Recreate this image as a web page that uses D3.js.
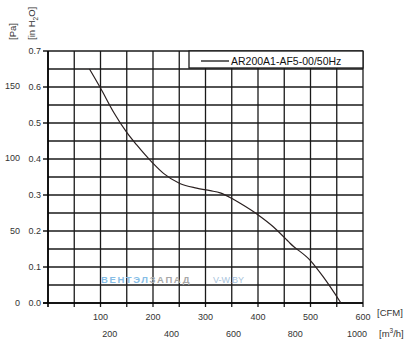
<!DOCTYPE html>
<html><head><meta charset="utf-8">
<script src="https://cdn.jsdelivr.net/npm/d3@7"></script>
<style>body{margin:0;background:#fff}svg{display:block}text{font-family:"Liberation Sans",Arial,sans-serif}</style>
</head><body><svg id="c" width="414" height="342"></svg>
<script>
const flowCFM = [79,100,125,150,169,200,220,251,283,309,328,353,366,401,429,455,461,499,524,558];
const pressureInH2O = [0.65,0.597,0.530,0.474,0.439,0.388,0.360,0.332,0.319,0.312,0.306,0.288,0.277,0.244,0.212,0.175,0.166,0.119,0.073,0.0];
const cfmTicks = [100,200,300,400,500,600];
const m3hTicks = [200,400,600,800,1000];
const inTicks = [0,0.1,0.2,0.3,0.4,0.5,0.6,0.7];
const paTicks = [0,50,100,150];
const seriesName = "AR200A1-AF5-00/50Hz";

const svg = d3.select("#c");
const x = d3.scaleLinear().domain([0,600]).range([48,363]);
const y = d3.scaleLinear().domain([0,0.7]).range([303,51]);
const gridCol = "#1a1a1a";

// grid
const g = svg.append("g");
g.selectAll(".v").data(d3.range(0,601,50)).join("line")
 .attr("x1",d=>x(d)).attr("x2",d=>x(d)).attr("y1",y(0.7)).attr("y2",d=>d===0?y(0):y(0)+4)
 .attr("stroke",gridCol).attr("stroke-width",1.3);
g.selectAll(".h").data(d3.range(0,15).map(i=>i*0.05)).join("line")
 .attr("x1",(d,i)=>i%2===0?x(0)-5:x(0)).attr("x2",x(600)).attr("y1",d=>y(d)).attr("y2",d=>y(d))
 .attr("stroke",gridCol).attr("stroke-width",1.3);
svg.append("line").attr("x1",x(0)).attr("x2",x(0)).attr("y1",y(0.7)).attr("y2",y(0)+4).attr("stroke","#000").attr("stroke-width",1.6);
svg.append("line").attr("x1",x(0)-5).attr("x2",x(600)).attr("y1",y(0)).attr("y2",y(0)).attr("stroke","#000").attr("stroke-width",1.6);

// watermark
const wm = svg.append("text").attr("x",101).attr("y",283).attr("font-size",9.5).attr("letter-spacing",1.6).attr("font-weight","bold");
wm.append("tspan").attr("fill","#86bde6").text("ВЕНТЭЛ");
wm.append("tspan").attr("fill","#a8a8a8").text("ЗАПАД");
svg.append("text").attr("x",213).attr("y",283).attr("font-size",9).attr("fill","#a9c4dc").text("V-W.BY");

// curve
svg.append("path").datum(flowCFM.map((f,i)=>[f,pressureInH2O[i]]))
 .attr("d",d3.line().x(d=>x(d[0])).y(d=>y(d[1])).curve(d3.curveMonotoneX))
 .attr("fill","none").attr("stroke","#2a2020").attr("stroke-width",1.2);

// legend
svg.append("rect").attr("x",189).attr("y",y(0.7)).attr("width",x(600)-189).attr("height",17)
 .attr("fill","#fff").attr("stroke",gridCol).attr("stroke-width",1.3);
svg.append("line").attr("x1",201).attr("x2",229).attr("y1",61).attr("y2",61).attr("stroke","#000").attr("stroke-width",1.2);
svg.append("text").attr("x",231).attr("y",64.5).attr("font-size",10.5).attr("fill","#111").text(seriesName);

// y labels
const lab = "#333";
svg.selectAll(".yl").data(inTicks).join("text").attr("x",41).attr("y",d=>y(d)+3).attr("text-anchor","end")
 .attr("font-size",9).attr("fill",lab).text(d=>d.toFixed(1));
svg.selectAll(".pl").data(paTicks).join("text").attr("x",20).attr("y",d=>y(d/249.089)+3).attr("text-anchor","end")
 .attr("font-size",9).attr("fill",lab).text(d=>d);
svg.append("text").attr("transform","translate(16,40) rotate(-90)").attr("font-size",9.5).attr("fill",lab).text("[Pa]");
const t2 = svg.append("text").attr("transform","translate(35,40) rotate(-90)").attr("font-size",9.5).attr("fill",lab);
t2.append("tspan").text("[in H");
t2.append("tspan").attr("font-size",6.5).attr("dy",2.5).text("2");
t2.append("tspan").attr("dy",-2.5).text("O]");

// x labels
svg.selectAll(".xl").data(cfmTicks).join("text").attr("x",d=>x(d)).attr("y",320).attr("text-anchor","middle")
 .attr("font-size",9).attr("fill",lab).text(d=>d);
svg.selectAll(".ml").data(m3hTicks).join("text").attr("x",d=>x(d/1.699)).attr("y",337).attr("text-anchor","middle")
 .attr("font-size",9).attr("fill",lab).text(d=>d);
svg.append("text").attr("x",377).attr("y",316).attr("font-size",9.5).attr("fill",lab).text("[CFM]");
const t3 = svg.append("text").attr("x",379).attr("y",337).attr("font-size",9.5).attr("fill",lab);
t3.append("tspan").text("[m");
t3.append("tspan").attr("font-size",6.5).attr("dy",-4).text("3");
t3.append("tspan").attr("dy",4).text("/h]");
</script></body></html>
